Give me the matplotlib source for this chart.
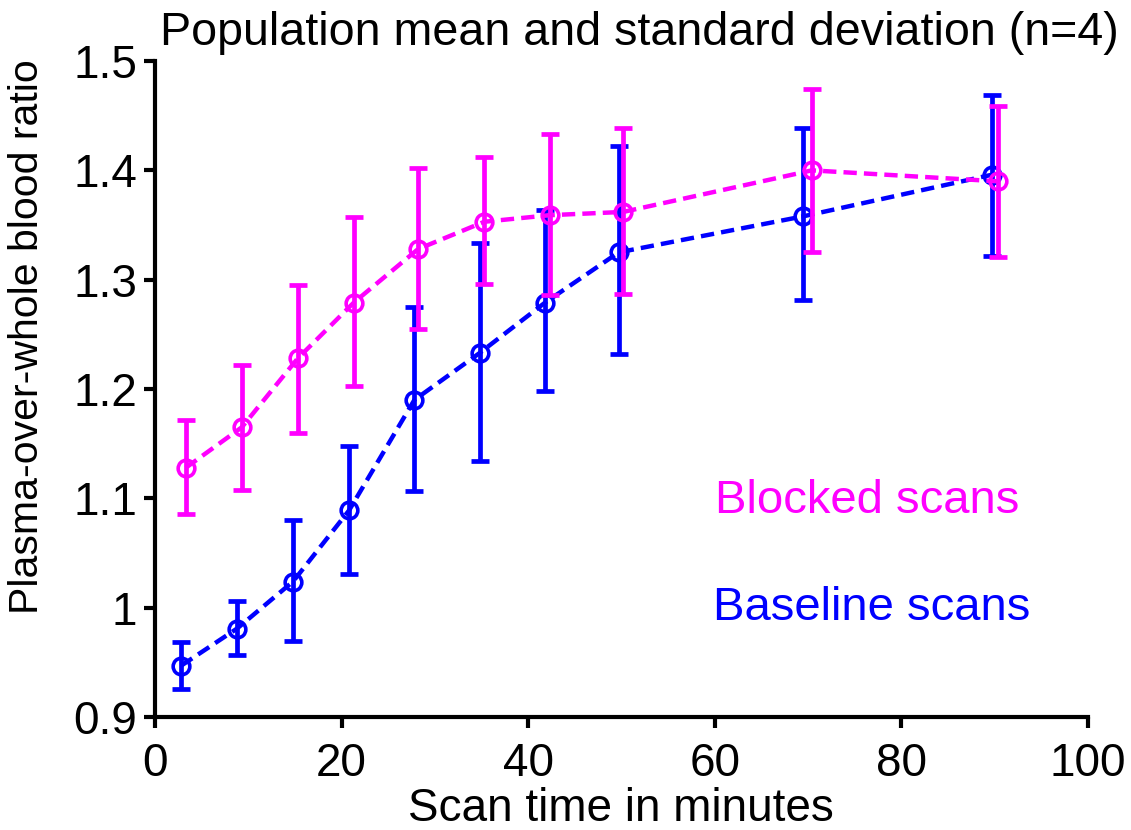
import matplotlib.pyplot as plt

plt.rcParams['font.family'] = ['Liberation Sans', 'DejaVu Sans']

# baseline scans (blue)
base_t = [2.8, 8.8, 14.8, 20.8, 27.8, 34.8, 41.8, 49.7, 69.5, 89.7]
base_mean = [0.947, 0.981, 1.024, 1.089, 1.190, 1.233, 1.279, 1.325, 1.358, 1.396]
base_lo = [0.926, 0.957, 0.970, 1.031, 1.107, 1.134, 1.198, 1.232, 1.281, 1.322]
base_hi = [0.969, 1.006, 1.080, 1.148, 1.275, 1.334, 1.364, 1.422, 1.439, 1.469]

# blocked scans (magenta)
block_t = [3.3, 9.3, 15.3, 21.3, 28.2, 35.3, 42.3, 50.2, 70.4, 90.3]
block_mean = [1.128, 1.165, 1.228, 1.279, 1.328, 1.353, 1.359, 1.362, 1.400, 1.390]
block_lo = [1.086, 1.108, 1.160, 1.203, 1.255, 1.296, 1.286, 1.287, 1.325, 1.321]
block_hi = [1.172, 1.222, 1.295, 1.357, 1.402, 1.412, 1.433, 1.439, 1.474, 1.459]

xticks = [0, 20, 40, 60, 80, 100]
yticks = [0.9, 1.0, 1.1, 1.2, 1.3, 1.4, 1.5]
ytick_labels = ['0.9', '1', '1.1', '1.2', '1.3', '1.4', '1.5']

fig = plt.figure(figsize=(11.31, 8.30), dpi=100)
ax = fig.add_axes([0.137, 0.136, 0.825, 0.7905])


def draw(t, mean, lo, hi, color):
    err = [[m - l for m, l in zip(mean, lo)], [h - m for m, h in zip(mean, hi)]]
    ax.errorbar(t, mean, yerr=err, fmt='none', ecolor=color, elinewidth=3.4,
                capsize=6.5, capthick=3.4)
    ax.plot(t, mean, color=color, lw=3.2, dashes=(3, 1.6), marker='o',
            markersize=12, markerfacecolor='none', markeredgewidth=2.6)


draw(base_t, base_mean, base_lo, base_hi, '#0000ff')
draw(block_t, block_mean, block_lo, block_hi, '#ff00ff')

ax.text(60.0, 1.098, 'Blocked scans', color='#ff00ff', fontsize=34, va='center')
ax.text(59.8, 1.0, 'Baseline scans', color='#0000ff', fontsize=34, va='center')

ax.set_xlim(0, 100)
ax.set_ylim(0.9, 1.5)
ax.set_xticks(xticks)
ax.set_yticks(yticks)
ax.set_yticklabels(ytick_labels)
ax.tick_params(labelsize=33, width=3, length=8, direction='out')
ax.tick_params(axis='x', pad=10)
ax.tick_params(axis='y', pad=5)
for s in ['top', 'right']:
    ax.spines[s].set_visible(False)
for s in ['left', 'bottom']:
    ax.spines[s].set_linewidth(3)

fig.text(0.549, 0.011, 'Scan time in minutes', fontsize=33,
         ha='center', va='baseline')
fig.text(0.024, 0.595, 'Plasma-over-whole blood ratio', fontsize=29.5,
         rotation=90, ha='center', va='center')
fig.text(0.565, 0.9458, 'Population mean and standard deviation (n=4)',
         fontsize=33.6, ha='center', va='baseline')

plt.savefig('out.png', dpi=100)
plt.close()
